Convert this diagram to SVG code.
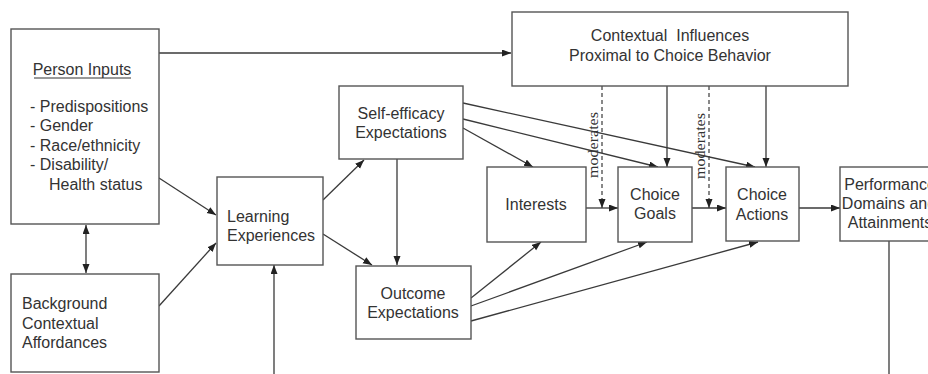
<svg xmlns="http://www.w3.org/2000/svg" width="928" height="374" viewBox="0 0 928 374">
<style>
.box{fill:#fff;stroke:#555;stroke-width:1.4}
.t{font-family:"Liberation Sans",Arial,sans-serif;font-size:16px;fill:#333}
.c{text-anchor:middle}
.ln{stroke:#3a3a3a;stroke-width:1.3;fill:none}
.dash{stroke:#3a3a3a;stroke-width:1.2;fill:none;stroke-dasharray:4 3}
.mod{font-family:"Liberation Serif","Times New Roman",serif;font-size:14px;fill:#333}
</style>
<defs>
<marker id="ah" markerUnits="userSpaceOnUse" markerWidth="10" markerHeight="8" refX="9" refY="3.5" orient="auto-start-reverse">
<path d="M0,0 L9,3.5 L0,7 z" fill="#222"/>
</marker>
</defs>
<rect width="928" height="374" fill="#fff"/>
<g id="connectors">
<line class="ln" x1="159" y1="53" x2="511" y2="53" marker-end="url(#ah)"/>
<line class="ln" x1="159" y1="178" x2="216" y2="215" marker-end="url(#ah)"/>
<line class="ln" x1="159" y1="306" x2="216" y2="243" marker-end="url(#ah)"/>
<line class="ln" x1="86" y1="225" x2="86" y2="273" marker-start="url(#ah)" marker-end="url(#ah)"/>
<line class="ln" x1="323" y1="200" x2="364" y2="160" marker-end="url(#ah)"/>
<line class="ln" x1="323" y1="234" x2="372" y2="265" marker-end="url(#ah)"/>
<line class="ln" x1="397" y1="159" x2="397" y2="265" marker-end="url(#ah)"/>
<line class="ln" x1="463" y1="128" x2="533" y2="167" marker-end="url(#ah)"/>
<line class="ln" x1="463" y1="119" x2="658" y2="167" marker-end="url(#ah)"/>
<line class="ln" x1="463" y1="103" x2="755" y2="167" marker-end="url(#ah)"/>
<line class="ln" x1="471" y1="298" x2="541" y2="242" marker-end="url(#ah)"/>
<line class="ln" x1="471" y1="306" x2="647" y2="242" marker-end="url(#ah)"/>
<line class="ln" x1="471" y1="321" x2="758" y2="242" marker-end="url(#ah)"/>
<line class="ln" x1="586" y1="208" x2="618" y2="208" marker-end="url(#ah)"/>
<line class="ln" x1="692" y1="208" x2="726" y2="208" marker-end="url(#ah)"/>
<line class="ln" x1="799" y1="208" x2="840" y2="208" marker-end="url(#ah)"/>
<line class="ln" x1="667" y1="86" x2="667" y2="167" marker-end="url(#ah)"/>
<line class="ln" x1="766" y1="86" x2="766" y2="167" marker-end="url(#ah)"/>
<line class="dash" x1="602" y1="86" x2="602" y2="208" marker-end="url(#ah)"/>
<line class="dash" x1="709" y1="86" x2="709" y2="208" marker-end="url(#ah)"/>
<line class="ln" x1="889" y1="241" x2="889" y2="374"/>
<line class="ln" x1="274" y1="374" x2="274" y2="265" marker-end="url(#ah)"/>
<text class="mod" transform="translate(598,178) rotate(-90)" textLength="66" lengthAdjust="spacingAndGlyphs">moderates</text>
<text class="mod" transform="translate(705,179) rotate(-90)" textLength="66" lengthAdjust="spacingAndGlyphs">moderates</text>
</g>
<g id="person-inputs">
<rect class="box" x="11" y="29" width="148" height="195"/>
<text class="t c" x="82" y="75">Person Inputs</text>
<line x1="34" y1="78" x2="131" y2="78" stroke="#333" stroke-width="1"/>
<text class="t" x="30" y="112">- Predispositions</text>
<text class="t" x="30" y="131">- Gender</text>
<text class="t" x="30" y="151">- Race/ethnicity</text>
<text class="t" x="30" y="170">- Disability/</text>
<text class="t" x="49" y="190">Health status</text>
</g>
<g id="background">
<rect class="box" x="11" y="274" width="148" height="98"/>
<text class="t" x="22" y="309">Background</text>
<text class="t" x="22" y="329">Contextual</text>
<text class="t" x="22" y="348">Affordances</text>
</g>
<g id="learning">
<rect class="box" x="217" y="177" width="106" height="88"/>
<text class="t" x="227" y="222">Learning</text>
<text class="t" x="227" y="241">Experiences</text>
</g>
<g id="self-efficacy">
<rect class="box" x="339" y="86" width="124" height="73"/>
<text class="t c" x="401" y="119">Self-efficacy</text>
<text class="t c" x="401" y="138">Expectations</text>
</g>
<g id="outcome">
<rect class="box" x="356" y="266" width="115" height="73"/>
<text class="t c" x="413" y="299">Outcome</text>
<text class="t c" x="413" y="318">Expectations</text>
</g>
<g id="interests">
<rect class="box" x="487" y="167" width="99" height="75"/>
<text class="t c" x="536" y="210">Interests</text>
</g>
<g id="choice-goals">
<rect class="box" x="618" y="167" width="74" height="75"/>
<text class="t c" x="655" y="200">Choice</text>
<text class="t c" x="655" y="219">Goals</text>
</g>
<g id="choice-actions">
<rect class="box" x="726" y="167" width="73" height="74"/>
<text class="t c" x="762" y="200">Choice</text>
<text class="t c" x="762" y="220">Actions</text>
</g>
<g id="performance">
<rect class="box" x="840" y="167" width="100" height="74"/>
<text class="t c" x="890" y="190">Performance</text>
<text class="t c" x="889" y="209">Domains and</text>
<text class="t c" x="890" y="228">Attainments</text>
</g>
<g id="contextual">
<rect class="box" x="512" y="12" width="336" height="74"/>
<text class="t c" x="670" y="41" xml:space="preserve">Contextual  Influences</text>
<text class="t c" x="670" y="61">Proximal to Choice Behavior</text>
</g>
</svg>
